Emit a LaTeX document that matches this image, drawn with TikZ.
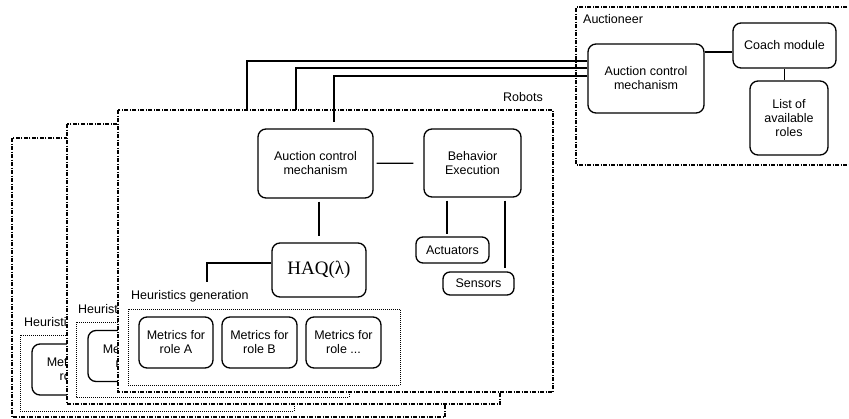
\documentclass[tikz,border=0pt]{standalone}
\usepackage{fontspec}
\setmainfont{Liberation Sans}
\newfontfamily\haqfont{Liberation Serif}
\tikzset{
  module/.style={draw, rounded corners=8pt, line width=1.3pt, align=center, inner sep=2pt, font=\fontsize{12.5}{14}\selectfont},
  robotframe/.style={draw, fill=white, line width=1.1pt, dash pattern=on 4pt off 1.5pt on 1pt off 1.5pt},
  auctframe/.style={draw, line width=1.1pt, dash pattern=on 4pt off 1.5pt on 1pt off 1.5pt},
  heurframe/.style={draw, line width=1pt, dash pattern=on 1pt off 1pt},
  link/.style={line width=1.2pt},
  caption/.style={anchor=west, inner sep=0pt, font=\fontsize{12.5}{14}\selectfont}
}
\begin{document}
\begin{tikzpicture}[x=1pt, y=-1pt]
  \useasboundingbox (0,0) rectangle (849,418);

  \draw[auctframe] (855,7) -- (576,7) -- (576,165) -- (855,165);
  \node[caption] (auctlabel) at (583,19) {Auctioneer};
  \node[module, minimum width=116pt, minimum height=69pt] (aacm) at (646,78.5) {Auction control\\mechanism};
  \node[module, minimum width=103pt, minimum height=45pt] (coach) at (784.5,45.5) {Coach module};
  \node[module, minimum width=78pt, minimum height=74pt] (roles) at (789,118) {List of\\available\\roles};
  \coordinate (coachin) at ([yshift=-6.5pt]coach.west);
  \draw[link] (coachin -| aacm.east) -- (coachin);
  \draw[link] (coach.south) -- (coach.south |- roles.north);

  \draw[robotframe] (12,138) rectangle (445,417);
  \node[caption] (hg3) at (24,323) {Heuristics generation};
  \draw[heurframe] (20,335) rectangle (294,411);
  \node[module, minimum width=88pt, minimum height=51pt] (ma3) at (76,369.5) {Metrics for\\role A};

  \draw[robotframe] (67,124) rectangle (500,404);
  \node[caption] (hg2) at (78,310) {Heuristics generation};
  \draw[heurframe] (76,322) rectangle (349,397);
  \node[module, minimum width=88pt, minimum height=51pt] (ma2) at (132,356) {Metrics for\\role A};

  \coordinate (r3top) at (247,111);
  \coordinate (r2top) at (296,111);
  \draw[link] ([yshift=17.5pt]aacm.west) -| (r3top);
  \draw[link] ([yshift=10.5pt]aacm.west) -| (r2top);

  \draw[robotframe] (118,110) rectangle (553,392);
  \node[caption] (robotlabel) at (503,97) {Robots};
  \node[module, minimum width=115pt, minimum height=69pt] (racm) at (315.5,163.5) {Auction control\\mechanism};
  \node[module, minimum width=97pt, minimum height=68pt] (rbeh) at (472.5,163) {Behavior\\Execution};
  \node[module, rounded corners=7pt, minimum width=73pt, minimum height=26pt] (act) at (452.5,250) {Actuators};
  \node[module, rounded corners=7pt, minimum width=71pt, minimum height=23pt] (sens) at (478.5,283.5) {Sensors};
  \node[module, minimum width=94pt, minimum height=54pt, font=\haqfont\fontsize{19}{22}\selectfont] (haq) at (319,270) {HAQ(λ)};
  \node[caption] (hg1) at (131,296) {Heuristics generation};
  \draw[heurframe] (128,309) rectangle (400,385);
  \node[module, minimum width=74pt, minimum height=51pt] (ma) at (176,342.5) {Metrics for\\role A};
  \node[module, minimum width=75pt, minimum height=51pt] (mb) at (259.5,342.5) {Metrics for\\role B};
  \node[module, minimum width=75pt, minimum height=51pt] (mc) at (343.5,342.5) {Metrics for\\role ...};

  \coordinate (racmin) at ([xshift=18.5pt]racm.north);
  \draw[link, shorten >=6pt] ([yshift=2.5pt]aacm.west) -| (racmin);
  \draw[link, shorten <=3pt, shorten >=10pt] (racm) -- (rbeh);
  \draw[link, shorten <=3pt, shorten >=6pt] (haq.north |- racm.south) -- (haq.north);
  \coordinate (actin) at ([xshift=-5.5pt]act.north);
  \coordinate (sensin) at ([xshift=26.5pt]sens.north);
  \draw[link, shorten <=3pt, shorten >=2pt] (actin |- rbeh.south) -- (actin);
  \draw[link, shorten <=3pt, shorten >=3pt] (sensin |- rbeh.south) -- (sensin);
  \coordinate (hgtop) at (207,282);
  \draw[link] ([yshift=7pt]haq.west) -| (hgtop);
\end{tikzpicture}
\end{document}
